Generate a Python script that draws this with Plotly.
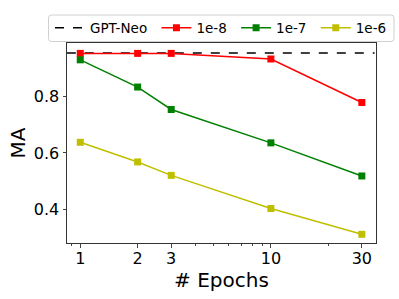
import plotly.graph_objects as go
import numpy as np

epochs = [1, 2, 3, 10, 30]
gpt_neo = 0.956
ma_1e8 = [0.955, 0.955, 0.955, 0.935, 0.780]
ma_1e7 = [0.932, 0.835, 0.755, 0.636, 0.518]
ma_1e6 = [0.638, 0.568, 0.520, 0.402, 0.310]
x_ticks = [1, 2, 3, 10, 30]
y_ticks = [0.4, 0.6, 0.8]
NB = "\u00a0"

fig = go.Figure()
fig.add_trace(go.Scatter(x=[0.85, 35], y=[gpt_neo, gpt_neo], mode="lines",
                         line=dict(color="black", dash="dash", width=1.5), name="GPT-Neo" + NB))
series = [("1e-8" + NB, ma_1e8, "#ff0000"), ("1e-7" + NB, ma_1e7, "#008000"), ("1e-6", ma_1e6, "#bfbf00")]
for name, vals, col in series:
    fig.add_trace(go.Scatter(x=epochs, y=vals, mode="lines+markers", name=name,
                             line=dict(color=col, width=1.5),
                             marker=dict(symbol="square", size=7, color=col)))

# legend frame (rounded box)
W, H = 399, 299
ml, mr, mt, mb = 67, 23, 43, 56
pw, ph = W - ml - mr, H - mt - mb
def px2x(p): return (p - ml) / pw
def py2y(p): return 1 + (mt - p) / ph
x0, x1, y0, y1, r = 48.5, 394, 15, 41.5, 3
path = (f"M {px2x(x0 + r)} {py2y(y0)} L {px2x(x1 - r)} {py2y(y0)} "
        f"Q {px2x(x1)} {py2y(y0)} {px2x(x1)} {py2y(y0 + r)} L {px2x(x1)} {py2y(y1 - r)} "
        f"Q {px2x(x1)} {py2y(y1)} {px2x(x1 - r)} {py2y(y1)} L {px2x(x0 + r)} {py2y(y1)} "
        f"Q {px2x(x0)} {py2y(y1)} {px2x(x0)} {py2y(y1 - r)} L {px2x(x0)} {py2y(y0 + r)} "
        f"Q {px2x(x0)} {py2y(y0)} {px2x(x0 + r)} {py2y(y0)} Z")
fig.add_shape(type="path", path=path, xref="paper", yref="paper",
              line=dict(color="#d0d0d0", width=1), fillcolor="white", layer="above")

fig.update_layout(
    width=W, height=H,
    margin=dict(l=ml, r=mr, t=mt, b=mb, autoexpand=False),
    paper_bgcolor="white", plot_bgcolor="white",
    font=dict(family="DejaVu Sans", color="black"),
    showlegend=True,
    legend=dict(orientation="h",
                x=px2x(50), xanchor="left", y=py2y(28), yanchor="middle",
                borderwidth=0, bgcolor="rgba(0,0,0,0)",
                font=dict(size=13.5), itemwidth=30, tracegroupgap=0),
    xaxis=dict(type="log", range=[np.log10(0.852), np.log10(35.6)],
               tickvals=x_ticks, ticktext=[str(v) for v in x_ticks],
               showgrid=False, zeroline=False, ticks="outside", ticklen=3.5,
               ticklabelstandoff=-3,
               tickfont=dict(size=16), showline=True, linecolor="#333", mirror=True,
               minor=dict(ticks="outside", ticklen=2, tickvals=[0.9, 4, 5, 6, 7, 8, 9, 20], showgrid=False),
               title=dict(text="# Epochs", font=dict(size=20), standoff=0)),
    yaxis=dict(range=[0.279, 0.992], tickvals=y_ticks, ticktext=[f"{v:.1f}" for v in y_ticks],
               showgrid=False, zeroline=False, ticks="outside", ticklen=3.5,
               tickfont=dict(size=16), showline=True, linecolor="#333", mirror=True,
               title=dict(text="MA", font=dict(size=20), standoff=2)),
)
fig.write_html("out.html", config={"displayModeBar": False},
               post_script="document.body.style.margin='0';document.body.style.overflow='hidden';")
